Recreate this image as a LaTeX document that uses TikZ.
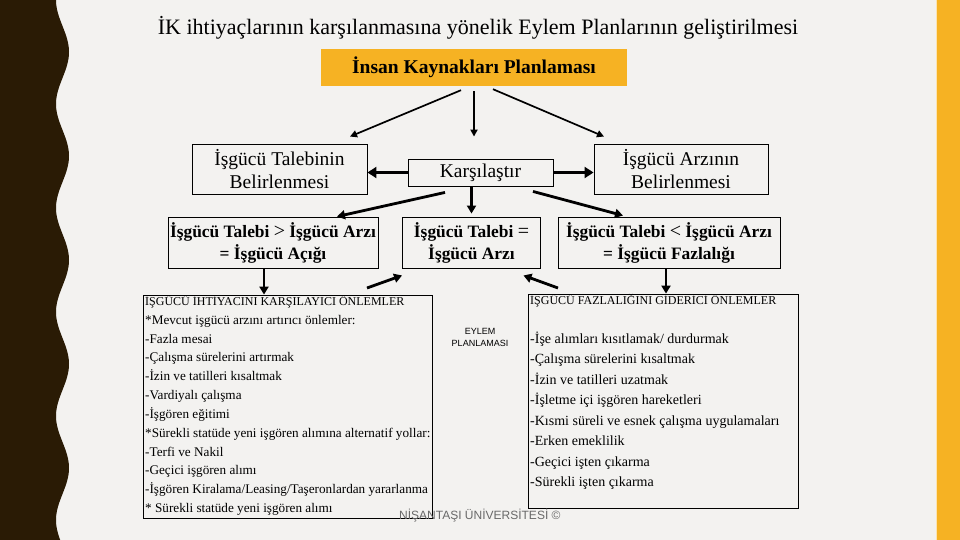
\documentclass[tikz,border=0pt]{standalone}
\usepackage{fontspec}
\setmainfont{Liberation Serif}
\newfontfamily\sansf{Liberation Sans}
\usetikzlibrary{arrows.meta}
\definecolor{bgc}{RGB}{243,242,240}
\definecolor{darkb}{RGB}{42,27,5}
\definecolor{gold}{RGB}{246,178,35}
\definecolor{wmc}{RGB}{105,105,105}
\newcommand{\relsym}[1]{{\mdseries\fontsize{20}{22}\selectfont #1}}
\begin{document}
\begin{tikzpicture}[x=1pt,y=-1pt,
  box/.style={draw=black, line width=0.9pt, inner sep=0pt, align=center},
  toptext/.style={font=\fontsize{19.5}{23.5}\selectfont},
  midtext/.style={font=\bfseries\fontsize{17.4}{22}\selectfont},
  ltext/.style={anchor=base west, inner sep=0pt, font=\fontsize{13.2}{15}\selectfont},
  rtext/.style={anchor=base west, inner sep=0pt, font=\fontsize{14}{16}\selectfont},
  htext/.style={anchor=base west, inner sep=0pt, font=\fontsize{12}{14}\selectfont},
  thinarr/.style={-{Triangle[length=7pt,width=7pt]}, line width=1.7pt},
  arr/.style={-{Triangle[length=8pt,width=9pt]}, line width=2.8pt},
  thickarr/.style={-{Triangle[length=9pt,width=11pt]}, line width=3.8pt}]
\useasboundingbox (0,0) rectangle (960,540);
% background and side bands
\fill[bgc] (0,0) rectangle (960,540);
\fill[darkb] (0,0) -- plot[domain=0:540, samples=240, variable=\t] ({62.5-6.5*cos(\t*3.4615)},\t) -- (0,540) -- cycle;
\fill[gold!35!white] (935.5,0) rectangle (937,540);
\fill[gold] (937,0) rectangle (960,540);

% title
\node[font=\fontsize{22}{26}\selectfont, inner sep=0pt] (title) at (478,28) {İK ihtiyaçlarının karşılanmasına yönelik Eylem Planlarının geliştirilmesi};

% orange box
\node[fill=gold, minimum width=306pt, minimum height=37pt, inner sep=0pt,
      font=\bfseries\fontsize{19.5}{23}\selectfont] (ikp) at (474,67.5) {İnsan Kaynakları Planlaması};

% first row
\node[box, toptext, minimum width=175pt, minimum height=50pt] (talep) at (279.5,169) {İşgücü Talebinin\\Belirlenmesi};
\node[box, toptext, minimum width=145pt, minimum height=27pt] (kars) at (480.5,172.5) {Karşılaştır};
\node[box, toptext, minimum width=174pt, minimum height=50pt] (arz) at (681,169) {İşgücü Arzının\\Belirlenmesi};

% second row
\node[box, midtext, minimum width=210pt, minimum height=51pt] (acik) at (273,242.5) {İşgücü Talebi \relsym{>} İşgücü Arzı\\= İşgücü Açığı};
\node[box, midtext, minimum width=138pt, minimum height=51pt] (esit) at (471.5,242.5) {İşgücü Talebi \relsym{=}\\İşgücü Arzı};
\node[box, midtext, minimum width=222pt, minimum height=51pt] (fazla) at (669,242.5) {İşgücü Talebi \relsym{<} İşgücü Arzı\\= İşgücü Fazlalığı};

% list boxes
\node[draw=black, line width=0.8pt, inner sep=0pt, minimum width=289pt, minimum height=223pt] (lbox) at (287.5,406.5) {};
\node[draw=black, line width=0.8pt, inner sep=0pt, minimum width=270pt, minimum height=214pt] (rbox) at (663,401) {};

% left list
\node[htext] (lh) at (145,305.5) {İŞGÜCÜ İHTİYACINI KARŞILAYICI ÖNLEMLER};
\foreach \s [count=\i from 2] in {
  *Mevcut işgücü arzını artırıcı önlemler:,
  -Fazla mesai,
  -Çalışma sürelerini artırmak,
  -İzin ve tatilleri kısaltmak,
  -Vardiyalı çalışma,
  -İşgören eğitimi,
  *Sürekli statüde yeni işgören alımına alternatif yollar:,
  -Terfi ve Nakil,
  -Geçici işgören alımı,
  -İşgören Kiralama/Leasing/Taşeronlardan yararlanma,
  * Sürekli statüde yeni işgören alımı}
  \node[ltext] (l\i) at (145,{305.5+(\i-1)*18.83}) {\s};

% right list
\node[htext] (rh) at (530,304.5) {İŞGÜCÜ FAZLALIĞINI GİDERİCİ ÖNLEMLER};
\foreach \s [count=\i from 0] in {
  -İşe alımları kısıtlamak/ durdurmak,
  -Çalışma sürelerini kısaltmak,
  -İzin ve tatilleri uzatmak,
  -İşletme içi işgören hareketleri,
  -Kısmi süreli ve esnek çalışma uygulamaları,
  -Erken emeklilik,
  -Geçici işten çıkarma,
  -Sürekli işten çıkarma}
  \node[rtext] (r\i) at (530,{343+\i*20.5}) {\s};

% middle label
\node[font=\sansf\fontsize{9}{12}\selectfont, align=center, inner sep=0pt] (ep) at (480,337) {EYLEM\\PLANLAMASI};

% watermark
\node[font=\sansf\fontsize{12}{14}\selectfont, text=wmc, anchor=west, inner sep=0pt] (wm) at (399,516) {NİŞANTAŞI ÜNİVERSİTESİ ©};

% arrows from the orange box
\draw[thinarr] ([xshift=-13pt,yshift=-4pt]ikp.south) -- ([xshift=70.5pt,yshift=7pt]talep.north);
\draw[thinarr] ([yshift=-5pt]ikp.south) -- ([xshift=-6.5pt,yshift=22pt]kars.north);
\draw[thinarr] ([xshift=19pt,yshift=-3pt]ikp.south) -- ([xshift=-77pt,yshift=7pt]arz.north);

% arrows from Karşılaştır
\draw[thickarr] (kars.west) -- (kars.west -| talep.east);
\draw[thickarr] (kars.east) -- (kars.east -| arz.west);
\draw[arr] ([xshift=-35.5pt,yshift=-6pt]kars.south) -- ([xshift=64pt]acik.north);
\draw[arr] ([yshift=-1pt]kars.south -| esit.north) -- ([yshift=3pt]esit.north);
\draw[arr] ([xshift=52.5pt,yshift=-5pt]kars.south) -- ([xshift=-46pt,yshift=1pt]fazla.north);

% arrows down to the lists
\draw[arr] ([xshift=-9pt]acik.south) -- ([xshift=-9pt]acik.south |- lbox.north);
\draw[arr] ([xshift=-3pt]fazla.south) -- ([xshift=-3pt]fazla.south |- rbox.north);

% arrows back to the balanced state
\coordinate (fl) at (367,288);
\coordinate (fr) at (558,288);
\draw[arr] (fl) -- ([yshift=-7pt]esit.south west);
\draw[arr] (fr) -- ([xshift=-17.5pt,yshift=-7pt]esit.south east);
\end{tikzpicture}
\end{document}
